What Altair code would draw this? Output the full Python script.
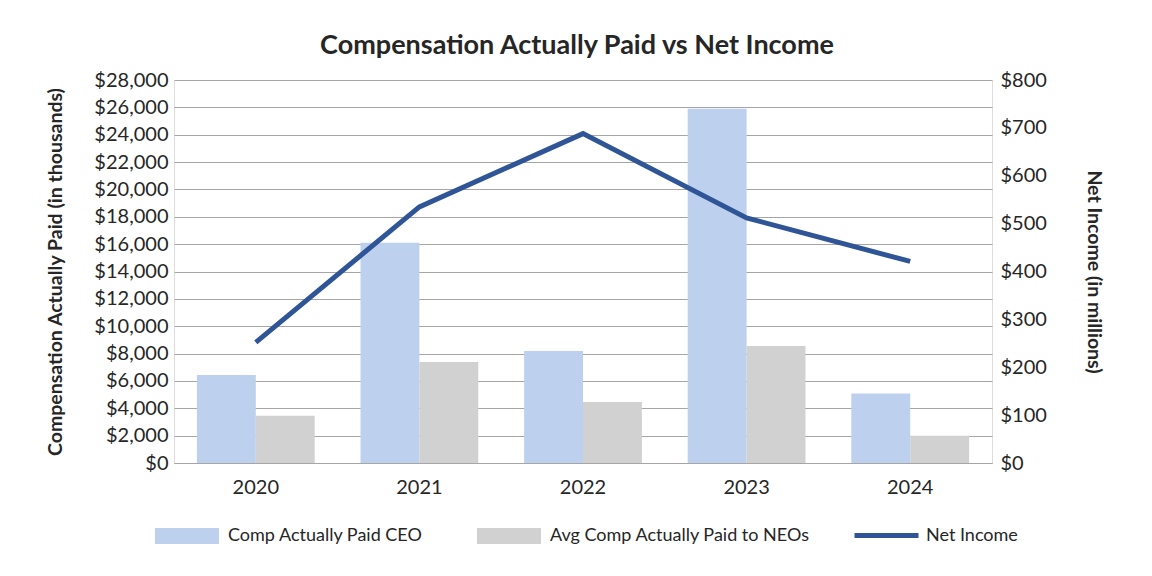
import altair as alt
import pandas as pd

years = ["2020", "2021", "2022", "2023", "2024"]
ceo_comp = [6430, 16100, 8190, 25900, 5090]
neo_comp = [3460, 7380, 4460, 8560, 2000]
net_income = [252, 535, 688, 512, 421]
series_names = ["Comp Actually Paid CEO", "Avg Comp Actually Paid to NEOs"]
bar_colors = ["#BDD1EE", "#D0D1D0"]
line_name = "Net Income"
line_color = "#2F5597"

FONT = "Lato"
TXT = "#262626"

bars_df = pd.DataFrame({
    "Year": years * 2,
    "Series": [series_names[0]] * len(years) + [series_names[1]] * len(years),
    "Value": ceo_comp + neo_comp,
})
line_df = pd.DataFrame({"Year": years, "Series": [line_name] * len(years), "Net": net_income})

x_enc = alt.X(
    "Year:N",
    sort=years,
    scale=alt.Scale(paddingInner=0.28, paddingOuter=0.14),
    axis=alt.Axis(title=None, labelAngle=0, labelFontSize=20, labelColor=TXT, labelFont=FONT,
                  labelPadding=14, ticks=False, domain=True, domainColor="#A6A6A6",
                  domainWidth=1, grid=False),
)

bars = alt.Chart(bars_df).mark_bar().encode(
    x=x_enc,
    xOffset=alt.XOffset("Series:N", sort=series_names, scale=alt.Scale(paddingInner=0, paddingOuter=0)),
    y=alt.Y(
        "Value:Q",
        scale=alt.Scale(domain=[0, 28000], nice=False),
        axis=alt.Axis(
            title="Compensation Actually Paid (in thousands)",
            values=list(range(0, 28001, 2000)),
            format="$,.0f",
            labelFontSize=20, labelColor=TXT, labelFont=FONT, labelPadding=6,
            ticks=False, domain=False,
            grid=True, gridColor="#A6A6A6", gridWidth=1,
            titleFont=FONT, titleFontSize=19.5, titleFontWeight="bold", titleColor=TXT,
            titleX=-119, titleY=191.5, titleAngle=-90, titleBaseline="middle", titleAlign="center",
        ),
    ),
    fill=alt.Fill(
        "Series:N",
        sort=series_names,
        scale=alt.Scale(domain=series_names, range=bar_colors),
        legend=alt.Legend(
            title=None, orient="none", legendX=-19, legendY=424, direction="horizontal",
            columns=2, columnPadding=54,
            symbolType="M-1,-0.25H1V0.25H-1Z", symbolSize=4096, symbolStrokeWidth=0,
            labelFont=FONT, labelFontSize=18, labelColor=TXT, labelOffset=9, labelLimit=400,
        ),
    ),
)

line = alt.Chart(line_df).mark_line(strokeWidth=5, strokeCap="butt", strokeJoin="miter").encode(
    x=alt.X("Year:N", sort=years),
    y=alt.Y(
        "Net:Q",
        scale=alt.Scale(domain=[0, 800], nice=False),
        axis=alt.Axis(
            title="Net Income (in millions)",
            orient="right",
            values=list(range(0, 801, 100)),
            format="$,.0f",
            labelFontSize=20, labelColor=TXT, labelFont=FONT, labelPadding=8,
            ticks=False, domain=False, grid=False,
            titleFont=FONT, titleFontSize=19.5, titleFontWeight="bold", titleColor=TXT,
            titleX=101, titleY=191.5, titleAngle=90, titleBaseline="middle", titleAlign="center",
        ),
    ),
    stroke=alt.Stroke(
        "Series:N",
        scale=alt.Scale(domain=[line_name], range=[line_color]),
        legend=alt.Legend(
            title=None, orient="none", legendX=678, legendY=421,
            symbolType="M-1,0H1", symbolSize=4096, symbolStrokeWidth=5,
            labelFont=FONT, labelFontSize=18, labelColor=TXT, labelOffset=5,
        ),
    ),
)

chart = alt.layer(bars, line).resolve_scale(y="independent").properties(
    width=818,
    height=383,
    autosize=alt.AutoSizeParams(type="none"),
    padding={"left": 166, "top": 72, "right": 150, "bottom": 100},
    title=alt.Title(
        "Compensation Actually Paid vs Net Income",
        font=FONT, fontSize=27, fontWeight="bold", color=TXT,
        anchor="middle", frame="group", offset=10, dx=-6,
    ),
).configure_view(stroke=None).configure(background="white")

chart.save("out.html", embed_options={"renderer": "svg", "actions": False})
